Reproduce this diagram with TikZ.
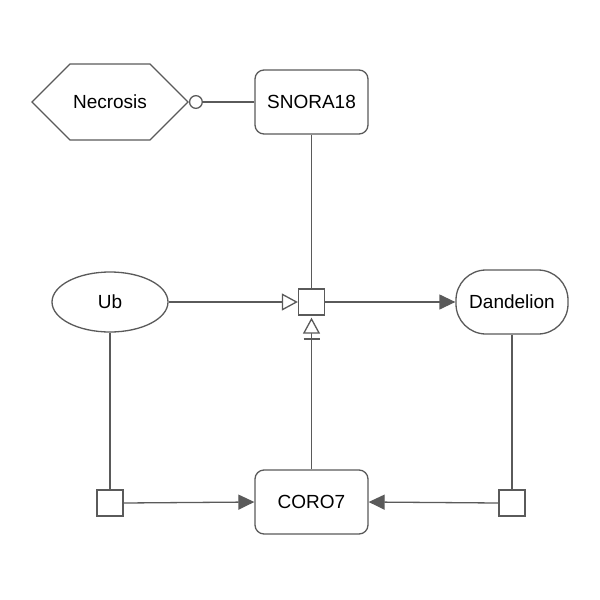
\documentclass[tikz,border=0pt]{standalone}
\usepackage{fontspec}
\setmainfont{Liberation Sans}
\usetikzlibrary{arrows.meta,shapes.geometric,shapes.symbols}
\definecolor{edge}{HTML}{5A5A5A}
\tikzset{
  base/.style={draw=edge, line width=1.3pt, fill=white, font=\fontsize{19}{21}\selectfont, inner sep=0pt},
  rbox/.style={base, rectangle, rounded corners=9pt, minimum width=113pt, minimum height=64pt},
  sq/.style={base, rectangle, minimum width=26pt, minimum height=26pt},
  conn/.style={draw=edge, line width=1.3pt},
  fillarr/.style={conn, -{Triangle[length=16pt,width=15pt]}},
  openarr/.style={conn, -{Triangle[open,length=16pt,width=17pt,fill=white]}},
  circarr/.style={conn, -{Circle[open,length=14pt,fill=white]}}
}
\begin{document}
\begin{tikzpicture}[x=1pt,y=-1pt]
\useasboundingbox (0,0) rectangle (600,600);
\node[base, signal, signal to=west and east, signal pointer angle=90, minimum width=156pt, minimum height=76pt] (nec) at (110,102) {Necrosis};
\node[rbox] (snora) at (311.5,102) {SNORA18};
\node[base, ellipse, minimum width=116pt, minimum height=60pt] (ub) at (110,302) {Ub};
\node[base, rectangle, rounded corners=30pt, minimum width=112pt, minimum height=64pt] (dand) at (512,302) {Dandelion};
\node[sq] (proc) at (311.5,302) {};
\node[rbox] (coro) at (311.5,502) {CORO7};
\node[sq] (s1) at (110,503) {};
\node[sq] (s2) at (512,503) {};
\draw[circarr] (snora.west) -- (nec.east);
\draw[conn] (snora.south) -- (proc.north);
\draw[openarr] (ub.east) -- (proc.west);
\draw[fillarr] (proc.east) -- (dand.west);
\draw[openarr] (coro.north) -- ([yshift=-2pt]proc.south);
\draw[conn, line width=2pt] ([xshift=-8pt,yshift=-23pt]proc.south) -- ([xshift=8pt,yshift=-23pt]proc.south);
\draw[conn] (ub.south) -- (s1.north);
\draw[fillarr] (s1.east) -- (coro.west);
\draw[conn] (dand.south) -- (s2.north);
\draw[fillarr] (s2.west) -- (coro.east);
\end{tikzpicture}
\end{document}
